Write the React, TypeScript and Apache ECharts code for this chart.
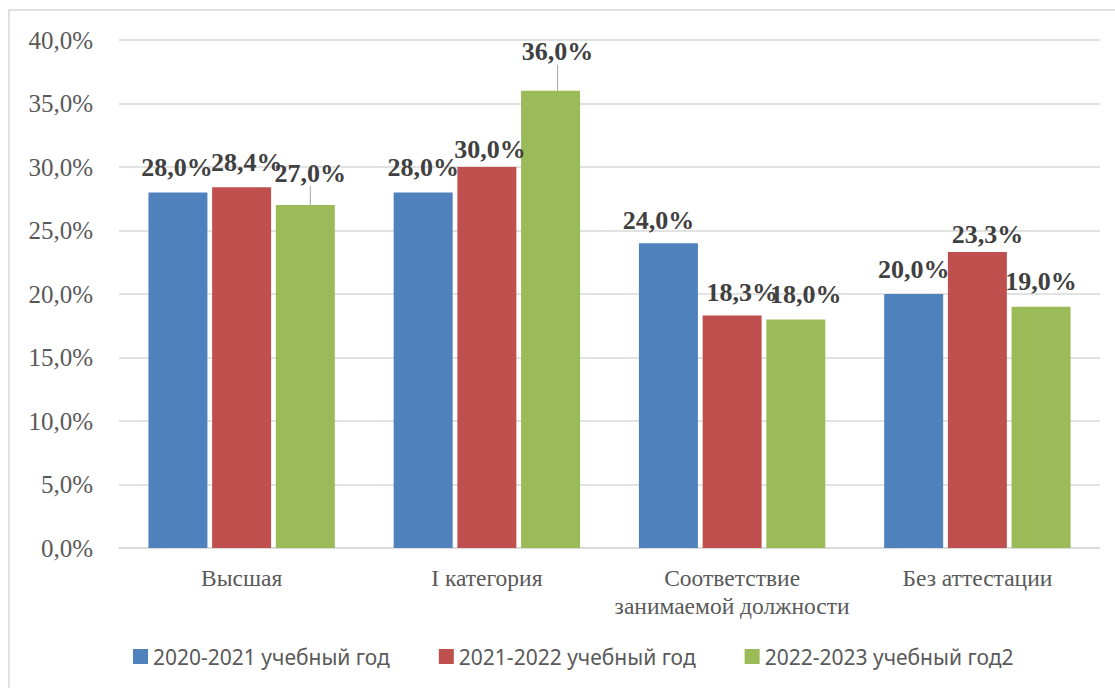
import React, { useEffect, useRef } from "react";
import * as echarts from "echarts";

const categories = ["Высшая", "I категория", "Соответствие\nзанимаемой должности", "Без аттестации"];
const seriesNames = ["2020-2021 учебный год", "2021-2022 учебный год", "2022-2023 учебный год2"];
const values2020 = [28.0, 28.0, 24.0, 20.0];
const values2021 = [28.4, 30.0, 18.3, 23.3];
const values2022 = [27.0, 36.0, 18.0, 19.0];
const colors = ["#4F81BD", "#C0504D", "#9BBB59"];

// label nudges [series][category] = [dx, dy]
const labelShift: number[][][] = [
  [[-1, 0], [0, 0], [-10, 2], [0, 0]],
  [[5, 0], [3, 7], [10, 2], [10, 7]],
  [[5, -7], [7, -14], [10, 0], [0, 0]],
];
const leaderLines: boolean[][] = [
  [false, false, false, false],
  [false, false, false, false],
  [true, true, false, false],
];

const SERIF = "'Liberation Serif', 'Times New Roman', serif";
const SANS = "'Noto Sans', 'Open Sans', sans-serif";

const fmt = (v: number) => v.toFixed(1).replace(".", ",") + "%";

export default function App() {
  const ref = useRef<HTMLDivElement>(null);
  useEffect(() => {
    if (!ref.current) return;
    const chart = echarts.init(ref.current, undefined, { renderer: "svg" });
    const all = [values2020, values2021, values2022];
    const series = all.map((vals, si) => ({
      name: seriesNames[si],
      type: "bar",
      barGap: "8%",
      barCategoryGap: "24%",
      itemStyle: { color: colors[si] },
      data: vals.map((v, ci) => ({
        value: v,
        labelLine: { show: leaderLines[si][ci], lineStyle: { color: "#a6a6a6", width: 1 } },
      })),
      label: {
        show: true,
        position: "top",
        distance: 12,
        formatter: (p: any) => fmt(p.value),
        fontFamily: SERIF,
        fontWeight: "bold",
        fontSize: 26,
        lineHeight: 26,
        color: "#404040",
      },
      labelLine: { show: false },
      labelLayout: (params: any) => {
        const s = labelShift[params.seriesIndex][params.dataIndex];
        return { dx: s[0], dy: s[1] };
      },
    }));
    chart.setOption({
      animation: false,
      backgroundColor: "#ffffff",
      graphic: [
        {
          type: "rect",
          shape: { x: 9, y: 10, width: 1300, height: 900 },
          style: { fill: "none", stroke: "#d9d9d9", lineWidth: 1.5 },
          silent: true,
        },
      ],
      grid: { left: 119, top: 40, width: 981, height: 508, containLabel: false },
      legend: {
        left: 133,
        top: 646,
        padding: 0,
        icon: "rect",
        itemWidth: 15,
        itemHeight: 15,
        itemGap: 49,
        textStyle: { fontFamily: SANS, fontSize: 21, color: "#595959" },
        data: seriesNames,
      },
      xAxis: {
        type: "category",
        data: categories,
        axisLine: { lineStyle: { color: "#d9d9d9", width: 1.5 } },
        axisTick: { show: false },
        axisLabel: {
          interval: 0,
          margin: 16,
          fontFamily: SERIF,
          fontSize: 23.5,
          lineHeight: 28,
          color: "#595959",
        },
      },
      yAxis: {
        type: "value",
        min: 0,
        max: 40,
        interval: 5,
        axisLine: { show: false },
        axisTick: { show: false },
        splitLine: { lineStyle: { color: "#d9d9d9", width: 1.5 } },
        axisLabel: {
          margin: 26,
          formatter: (v: number) => fmt(v),
          fontFamily: SERIF,
          fontSize: 25,
          color: "#595959",
        },
      },
      series,
    });
    return () => chart.dispose();
  }, []);
  return (
    <div
      ref={ref}
      style={{ position: "fixed", left: 0, top: 0, width: 1115, height: 688 }}
    />
  );
}
